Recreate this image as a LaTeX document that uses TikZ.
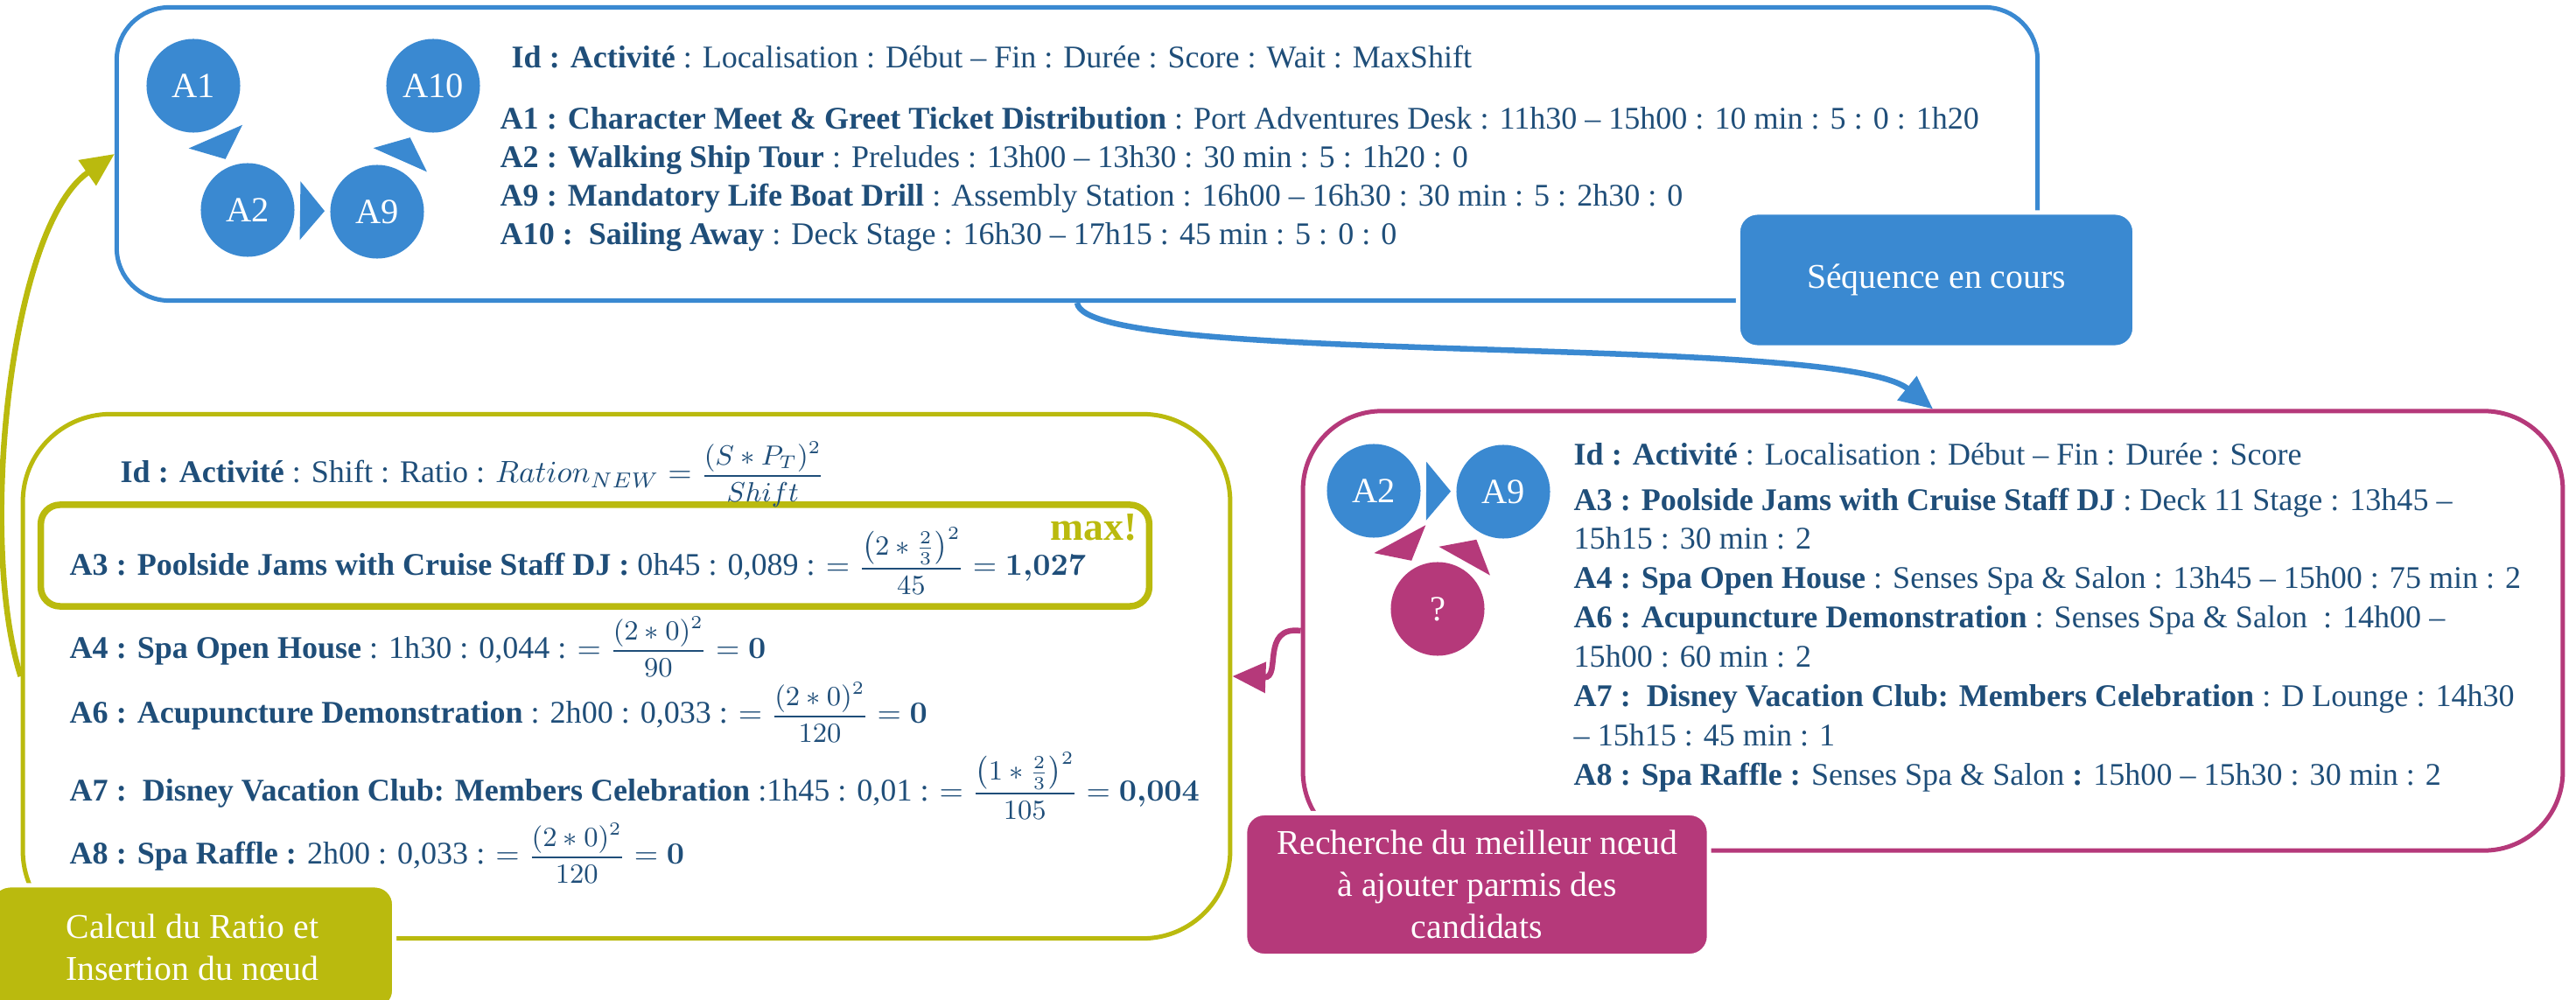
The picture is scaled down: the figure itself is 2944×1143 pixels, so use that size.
\documentclass[tikz,border=0pt]{standalone}
\usepackage{amsmath}
\usepackage{fontspec}
\setmainfont{Liberation Serif}
\usepackage{xcolor}
\definecolor{cSeq}{HTML}{3A89D1}
\definecolor{cCand}{HTML}{B5397A}
\definecolor{cRatio}{HTML}{BABA0E}
\definecolor{cText}{HTML}{1F4E79}
\usepackage{tikz}
\usetikzlibrary{arrows.meta,calc}
\tikzset{
  node-frame/.style={draw,line width=0.05cm,inner sep=0pt},
  node-act/.style={circle,inner sep=0pt,minimum size=1.07cm,text=white,
    font=\fontsize{11.5}{12}\selectfont},
  node-tag/.style={draw=white,line width=0.05cm,rounded corners=0.22cm,
    text=white,align=center,font=\fontsize{11.3}{13.7}\selectfont},
  node-info/.style={anchor=base west,align=left,inner sep=0pt,text=cText,
    font=\fontsize{10.25}{12.52}\selectfont},
  arrow/.style={-{Triangle[length=0.38cm,width=0.34cm]},line width=0.065cm},
}
% petite fleche triangulaire entre deux activites
\newcommand{\acttip}[3]{%
  \path ($(#2)!0.5!(#3)$) coordinate (tip-m);
  \path ($(tip-m)!-0.14cm!(#3)$) coordinate (tip-b);
  \fill[#1] ($(tip-m)!0.14cm!(#3)$) -- ($(tip-b)!0.335cm!90:(#3)$)
    -- ($(tip-b)!0.335cm!-90:(#3)$) -- cycle;
}
% fraction du ratio, en petit corps
\newcommand{\ratiofrac}[2]{\mbox{\fontsize{8.6}{10}\selectfont$\displaystyle\frac{#1}{#2}$}}

\begin{document}
\begin{tikzpicture}[x=0.01cm,y=-0.01cm]
  \useasboundingbox (0,0) rectangle (2944,1143);
  % cadres
  \node[node-frame,draw=cSeq,rounded corners=0.6cm,
    minimum width=21.94cm,minimum height=3.35cm] (seq) at (1231,176) {};
  \node[node-frame,draw=cCand,rounded corners=0.9cm,
    minimum width=14.39cm,minimum height=5.02cm] (cand) at (2209,721) {};
  \node[node-frame,draw=cRatio,rounded corners=1cm,
    minimum width=13.79cm,minimum height=5.99cm] (ratio) at (716,773) {};
  \node[node-frame,draw=cRatio,line width=0.075cm,rounded corners=0.22cm,
    minimum width=12.66cm,minimum height=1.16cm] (best) at (680,635) {};

  % sequence en cours
  \node[node-act,fill=cSeq] (a1) at (221,98) {A1};
  \node[node-act,fill=cSeq] (a10) at (495,98) {A10};
  \node[node-act,fill=cSeq] (a2) at (283,240) {A2};
  \node[node-act,fill=cSeq] (a9) at (431,242) {A9};
  \acttip{cSeq}{a1}{a2}
  \acttip{cSeq}{a2}{a9}
  \acttip{cSeq}{a9}{a10}
  \node[node-info] (seq-head) at (584,78) {\textbf{Id : Activité} : Localisation : Début – Fin : Durée : Score : Wait : MaxShift};
  % ancre sur la derniere ligne
  \node[node-info] (seq-list) at (571,280) {%
    \textbf{A1 : Character Meet \& Greet Ticket Distribution} : Port Adventures Desk : 11h30 – 15h00 : 10 min : 5 : 0 : 1h20\\
    \textbf{A2 : Walking Ship Tour} : Preludes : 13h00 – 13h30 : 30 min : 5 : 1h20 : 0\\
    \textbf{A9 : Mandatory Life Boat Drill} : Assembly Station : 16h00 – 16h30 : 30 min : 5 : 2h30 : 0\\
    \textbf{A10 :\ \ Sailing Away} : Deck Stage : 16h30 – 17h15 : 45 min : 5 : 0 : 0};

  % candidats
  \node[node-act,fill=cSeq] (c2) at (1570,561) {A2};
  \node[node-act,fill=cSeq] (c9) at (1718,562) {A9};
  \node[node-act,fill=cCand] (cq) at (1643,696) {?};
  \acttip{cSeq}{c2}{c9}
  \acttip{cCand}{c2}{cq}
  \acttip{cCand}{cq}{c9}
  \node[node-info] (cand-head) at (1798,532) {\textbf{Id : Activité} : Localisation : Début – Fin : Durée : Score};
  \node[node-info,font=\fontsize{10.25}{12.75}\selectfont] (cand-list) at (1798,897) {%
    \textbf{A3 : Poolside Jams with Cruise Staff DJ} : Deck 11 Stage : 13h45 –\\
    15h15 : 30 min : 2\\
    \textbf{A4 : Spa Open House} : Senses Spa \& Salon : 13h45 – 15h00 : 75 min : 2\\
    \textbf{A6 : Acupuncture Demonstration} : Senses Spa \& Salon \ : 14h00 –\\
    15h00 : 60 min : 2\\
    \textbf{A7 :\ \ Disney Vacation Club: Members Celebration} : D Lounge : 14h30\\
    – 15h15 : 45 min : 1\\
    \textbf{A8 : Spa Raffle :} Senses Spa \& Salon \textbf{:} 15h00 – 15h30 : 30 min : 2};

  % ratios
  \node[node-info] (ratio-head) at (137,552) {\textbf{Id : Activité} : Shift : Ratio : $Ration_{NEW}=\ratiofrac{(S*P_T)^2}{Shift}$};
  \node[node-info] (r3) at (79,658) {\textbf{A3 : Poolside Jams with Cruise Staff DJ :} 0h45 : 0,089 : $=\ratiofrac{\left(2*\frac{2}{3}\right)^2}{45}=\boldsymbol{1{,}027}$};
  \node[anchor=base east,inner sep=0pt,text=cRatio,
    font=\fontsize{13}{13}\selectfont\bfseries] (max) at (1300,618) {max!};
  \node[node-info] (r4) at (79,752) {\textbf{A4 : Spa Open House} : 1h30 : 0,044 : $=\ratiofrac{(2*0)^2}{90}=\boldsymbol{0}$};
  \node[node-info] (r6) at (79,827) {\textbf{A6 : Acupuncture Demonstration} : 2h00 : 0,033 : $=\ratiofrac{(2*0)^2}{120}=\boldsymbol{0}$};
  \node[node-info] (r7) at (79,915) {\textbf{A7 :\ \ Disney Vacation Club: Members Celebration} :1h45 : 0,01 : $=\ratiofrac{\left(1*\frac{2}{3}\right)^2}{105}=\boldsymbol{0{,}004}$};
  \node[node-info] (r8) at (79,988) {\textbf{A8 : Spa Raffle :} 2h00 : 0,033 : $=\ratiofrac{(2*0)^2}{120}=\boldsymbol{0}$};

  % etiquettes
  \node[node-tag,fill=cSeq,minimum width=4.53cm,minimum height=1.54cm] (seq-tag) at (2213,320) {Séquence en cours};
  \node[node-tag,fill=cCand,minimum width=5.3cm,minimum height=1.63cm] (cand-tag) at (1688,1011) {Recherche du meilleur nœud\\à ajouter parmis des\\candidats};
  \node[node-tag,fill=cRatio,minimum width=4.61cm,minimum height=1.42cm] (ratio-tag) at (220,1083) {Calcul du Ratio et\\Insertion du nœud};

  % fleches
  \draw[arrow,cSeq] (seq.south) .. controls (1240,420) and (2100,380) .. (cand.north);
  \draw[arrow,cCand] (cand.west) .. controls (1440,715) and (1465,775) .. (ratio.east);
  \draw[arrow,cRatio] (ratio.west) .. controls (-25,620) and (10,260) .. (seq.west);
\end{tikzpicture}
\end{document}
